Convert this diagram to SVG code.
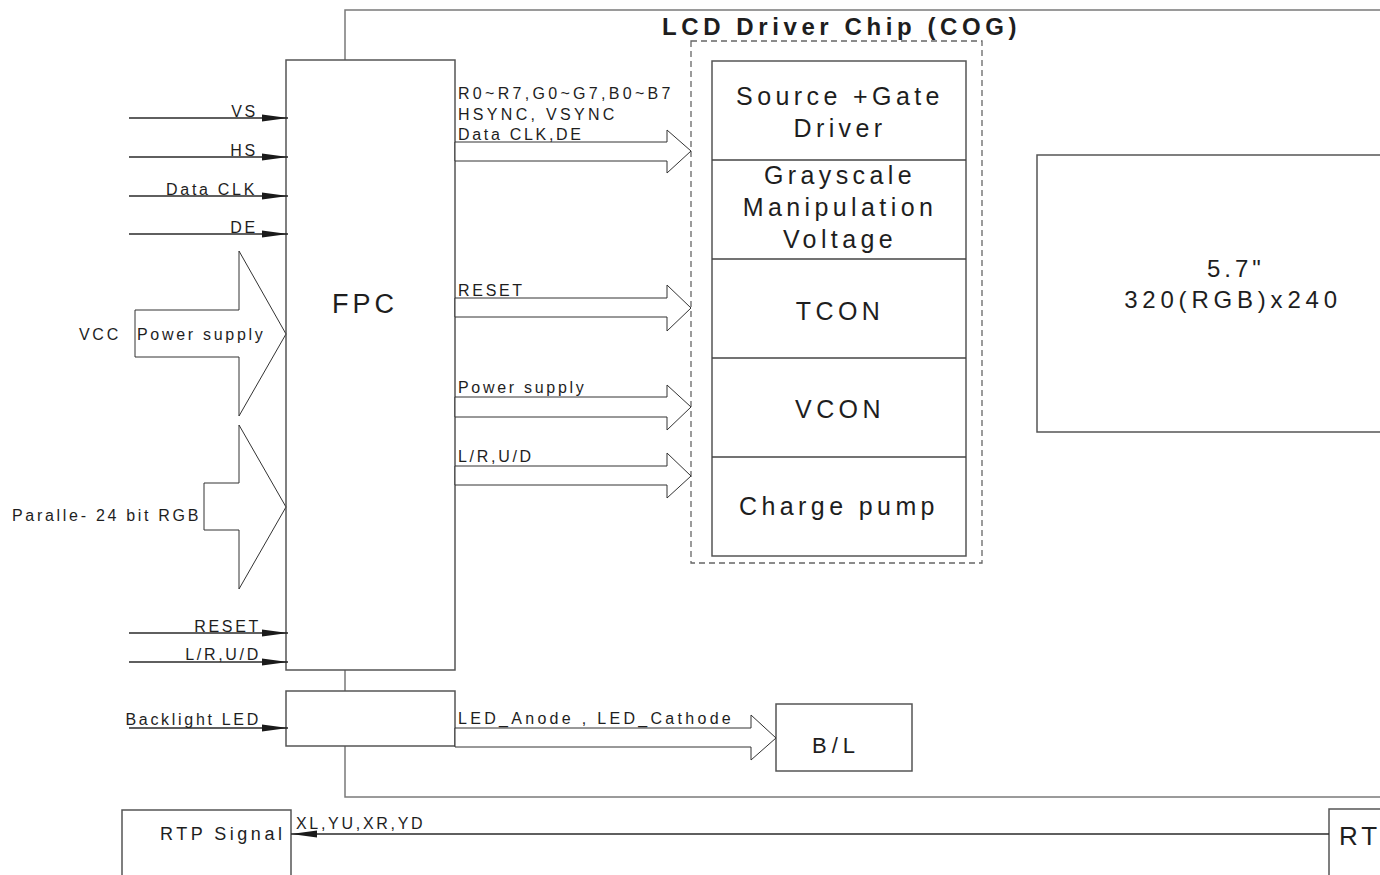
<svg xmlns="http://www.w3.org/2000/svg" width="1380" height="875" viewBox="0 0 1380 875">
<style>
text{font-family:"Liberation Sans",Arial,sans-serif;fill:#1e1e1e}
.s{font-size:16px;letter-spacing:2.7px}
.w{letter-spacing:3.3px}
.m{font-size:25px;letter-spacing:4.4px}
.t{font-size:24px;font-weight:bold;letter-spacing:3.5px}
.box{fill:#fff;stroke:#555;stroke-width:1.5}
.outer{fill:none;stroke:#7a7a7a;stroke-width:1.5}
.dash{fill:none;stroke:#666;stroke-width:1.3;stroke-dasharray:6 4}
.div{stroke:#444;stroke-width:1.3}
.fat{fill:#fff;stroke:#333;stroke-width:1}
.ln{stroke:#2a2a2a;stroke-width:1.3;fill:none}
</style>
<defs>
<marker id="ah" markerWidth="27" markerHeight="8" refX="26" refY="4" orient="auto" markerUnits="userSpaceOnUse">
<path d="M0,0.6 L26,4 L0,7.4 z" fill="#1a1a1a"/>
</marker>
</defs>

<g id="outer-frame">
<rect class="outer" x="345" y="10" width="1100" height="787"/>
</g>

<g id="display">
<rect class="box" x="1037" y="155" width="400" height="277"/>
<text x="1207" y="277" style="font-size:24px;letter-spacing:4px">5.7"</text>
<text x="1233" y="308" text-anchor="middle" style="font-size:24px;letter-spacing:4.8px">320(RGB)x240</text>
</g>

<g id="lcd-driver-chip">
<text class="t" x="662" y="35" textLength="358" lengthAdjust="spacing">LCD Driver Chip (COG)</text>
<rect class="dash" x="691" y="41" width="291" height="522"/>
<rect class="box" x="712" y="61" width="254" height="495"/>
<line class="div" x1="712" y1="160" x2="966" y2="160"/>
<line class="div" x1="712" y1="259" x2="966" y2="259"/>
<line class="div" x1="712" y1="358" x2="966" y2="358"/>
<line class="div" x1="712" y1="457" x2="966" y2="457"/>
<text class="m" x="840" y="105" text-anchor="middle">Source +Gate</text>
<text class="m" x="840" y="137" text-anchor="middle">Driver</text>
<text class="m" x="840" y="184" text-anchor="middle">Grayscale</text>
<text class="m" x="840" y="216" text-anchor="middle">Manipulation</text>
<text class="m" x="840" y="248" text-anchor="middle">Voltage</text>
<text class="m" x="840" y="320" text-anchor="middle">TCON</text>
<text class="m" x="840" y="418" text-anchor="middle">VCON</text>
<text class="m" x="839" y="515" text-anchor="middle">Charge pump</text>
</g>

<g id="fpc">
<rect class="box" x="286" y="60" width="169" height="610"/>
<text x="332" y="313" style="font-size:27px;letter-spacing:4px">FPC</text>
</g>

<g id="backlight-fpc">
<rect class="box" x="286" y="691" width="169" height="55"/>
</g>

<g id="bl">
<rect class="box" x="776" y="704" width="136" height="67"/>
<text x="812" y="753" style="font-size:22px;letter-spacing:5px">B/L</text>
</g>

<g id="rtp-signal">
<rect class="box" x="122" y="810" width="169" height="90"/>
<text x="160" y="840" style="font-size:18px;letter-spacing:3.5px">RTP Signal</text>
</g>

<g id="rt">
<rect class="box" x="1329" y="809" width="90" height="90"/>
<text x="1339" y="845" style="font-size:26px;letter-spacing:4px">RT</text>
</g>

<g id="connectors">
<line class="ln" x1="129" y1="118" x2="288" y2="118" marker-end="url(#ah)"/>
<line class="ln" x1="129" y1="157" x2="288" y2="157" marker-end="url(#ah)"/>
<line class="ln" x1="129" y1="196" x2="288" y2="196" marker-end="url(#ah)"/>
<line class="ln" x1="129" y1="234" x2="288" y2="234" marker-end="url(#ah)"/>
<line class="ln" x1="129" y1="633" x2="288" y2="633" marker-end="url(#ah)"/>
<line class="ln" x1="129" y1="662" x2="288" y2="662" marker-end="url(#ah)"/>
<line class="ln" x1="129" y1="728" x2="288" y2="728" marker-end="url(#ah)"/>
<line class="ln" x1="1329" y1="834" x2="291" y2="834" marker-end="url(#ah)"/>

<polygon class="fat" points="135,310 239,310 239,251 286,334 239,416 239,357 135,357"/>
<polygon class="fat" points="204,483 239,483 239,425 286,507 239,589 239,530 204,530"/>

<polygon class="fat" points="455,142 667,142 667,130 691,151 667,173 667,161 455,161"/>
<polygon class="fat" points="455,298 667,298 667,285 691,308 667,331 667,317 455,317"/>
<polygon class="fat" points="455,397 667,397 667,385 691,407 667,430 667,417 455,417"/>
<polygon class="fat" points="455,466 667,466 667,453 691,476 667,498 667,485 455,485"/>
<polygon class="fat" points="455,728 751,728 751,715 776,738 751,760 751,747 455,747"/>
</g>

<g id="labels">
<text class="s" x="258" y="117" text-anchor="end">VS</text>
<text class="s" x="258" y="156" text-anchor="end">HS</text>
<text class="s" x="257" y="195" text-anchor="end">Data CLK</text>
<text class="s" x="258" y="233" text-anchor="end">DE</text>
<text class="s" x="261" y="632" text-anchor="end">RESET</text>
<text class="s" x="261" y="660" text-anchor="end">L/R,U/D</text>
<text class="s" x="261" y="725" text-anchor="end">Backlight LED</text>
<text class="s" x="79" y="340">VCC</text>
<text class="s" x="137" y="340">Power supply</text>
<text class="s" x="12" y="521">Paralle- 24 bit RGB</text>
<text class="s w" x="458" y="99">R0~R7,G0~G7,B0~B7</text>
<text class="s w" x="458" y="120">HSYNC, VSYNC</text>
<text class="s" x="458" y="140">Data CLK,DE</text>
<text class="s" x="458" y="296">RESET</text>
<text class="s" x="458" y="393">Power supply</text>
<text class="s" x="458" y="462">L/R,U/D</text>
<text class="s w" x="458" y="724">LED_Anode , LED_Cathode</text>
<text class="s" x="296" y="829">XL,YU,XR,YD</text>
</g>
</svg>
